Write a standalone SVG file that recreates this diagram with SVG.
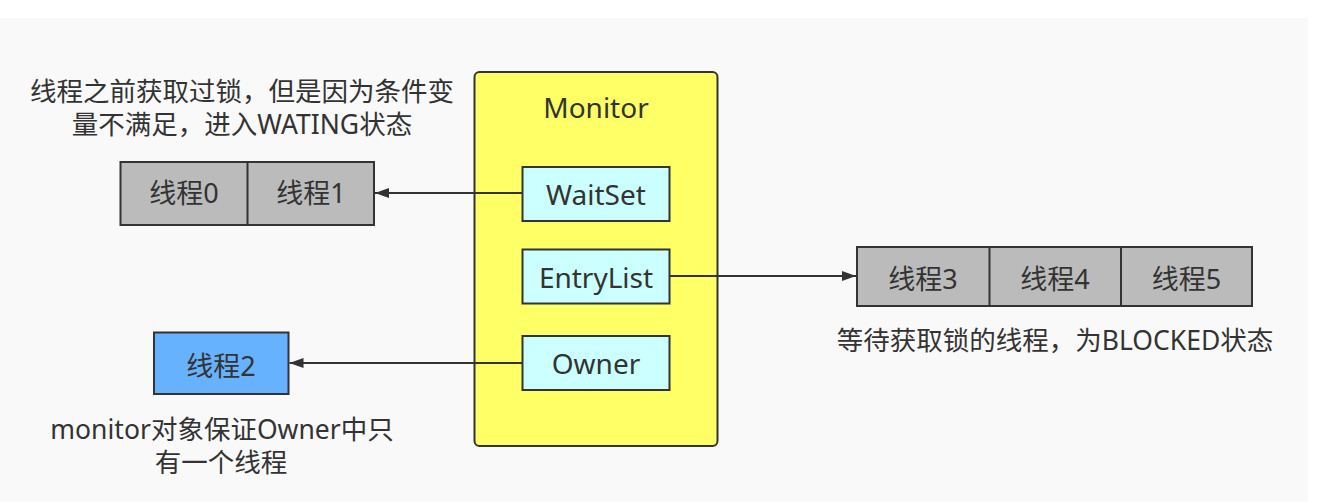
<svg xmlns="http://www.w3.org/2000/svg" width="1318" height="502" viewBox="0 0 1318 502">
<defs>
<style>
.t{font-family:"Noto Sans","Noto Sans CJK SC",sans-serif;font-size:26.5px;fill:#333;text-anchor:middle}
.lat{font-size:28px}
.th{font-size:27px}
.box{stroke:#333;stroke-width:2}
.gray{fill:#bbbbbb}
.cyan{fill:#ccffff}
.line{stroke:#333;stroke-width:2;fill:none}
</style>
<marker id="arr" viewBox="0 0 14 10" refX="14" refY="5" markerWidth="14" markerHeight="10" markerUnits="userSpaceOnUse" orient="auto">
<path d="M0,0 L14,5 L0,10 Z" fill="#333"/>
</marker>
</defs>
<rect x="0" y="0" width="1318" height="502" fill="#ffffff"/>
<rect x="0" y="18" width="1308" height="484" fill="#f9f9f9"/>

<g id="monitor">
<rect class="box" x="474.5" y="72" width="243" height="374" rx="5" fill="#ffff66"/>
<text class="t lat" x="596" y="118">Monitor</text>
</g>
<g id="waitset">
<rect class="box cyan" x="522.5" y="167" width="147" height="54"/>
<text class="t lat" x="596" y="205">WaitSet</text>
</g>
<g id="entrylist">
<rect class="box cyan" x="522.5" y="249.5" width="147" height="54"/>
<text class="t lat" x="596" y="288">EntryList</text>
</g>
<g id="owner">
<rect class="box cyan" x="522.5" y="336" width="147" height="54"/>
<text class="t lat" x="596" y="374">Owner</text>
</g>

<g id="waitQueue">
<rect class="box gray" x="120.5" y="162" width="253.5" height="63"/>
<line class="line" x1="247.5" y1="162" x2="247.5" y2="225"/>
<text class="t th" x="184" y="203">线程0</text>
<text class="t th" x="311" y="203">线程1</text>
</g>
<g id="waitLabel">
<text class="t" x="242" y="101">线程之前获取过锁，但是因为条件变</text>
<text class="t" x="242" y="134">量不满足，进入WATING状态</text>
</g>

<g id="ownerThread">
<rect class="box" x="154" y="332.5" width="134.5" height="61.5" fill="#66b2ff"/>
<text class="t th" x="221" y="376">线程2</text>
</g>
<g id="ownerLabel">
<text class="t" x="222" y="439">monitor对象保证Owner中只</text>
<text class="t" x="221" y="472">有一个线程</text>
</g>

<g id="blockedQueue">
<rect class="box gray" x="857" y="247" width="395" height="59"/>
<line class="line" x1="989.5" y1="247" x2="989.5" y2="306"/>
<line class="line" x1="1121" y1="247" x2="1121" y2="306"/>
<text class="t th" x="923" y="289">线程3</text>
<text class="t th" x="1055" y="289">线程4</text>
<text class="t th" x="1186.5" y="289">线程5</text>
</g>
<g id="blockedLabel">
<text class="t" x="1055" y="350">等待获取锁的线程，为BLOCKED状态</text>
</g>

<g id="connectors">
<line class="line" x1="522" y1="193" x2="375" y2="193" marker-end="url(#arr)"/>
<line class="line" x1="670" y1="276" x2="856" y2="276" marker-end="url(#arr)"/>
<line class="line" x1="522" y1="363" x2="289.5" y2="363" marker-end="url(#arr)"/>
</g>
</svg>
